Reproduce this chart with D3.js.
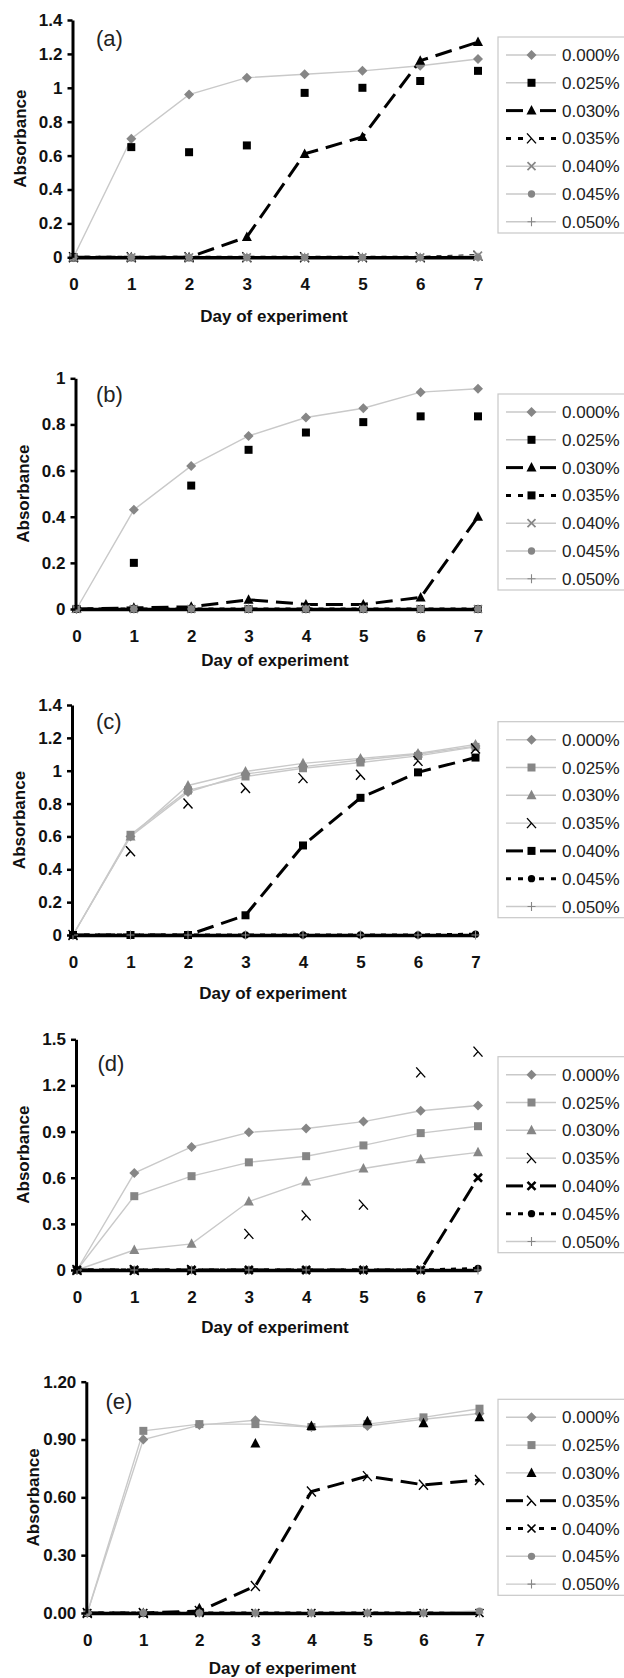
<!DOCTYPE html>
<html lang="en">
<head>
<meta charset="UTF-8" />
<title>Absorbance by day</title>
<script src="https://cdn.jsdelivr.net/npm/d3@7"></script>
<style>
  body { margin: 0; background: #fff; }
  svg { display: block; font-family: "Liberation Sans", Arial, sans-serif; }
</style>
</head>
<body>
<div id="chart"></div>
<script>
// ---- data ----
const days = [0, 1, 2, 3, 4, 5, 6, 7];
const seriesNames = ["0.000%", "0.025%", "0.030%", "0.035%", "0.040%", "0.045%", "0.050%"];
const panelTags = ["(a)", "(b)", "(c)", "(d)", "(e)"];
const xTitle = "Day of experiment";
const yTitle = "Absorbance";

// (a)
const a000 = [0, 0.70, 0.96, 1.06, 1.08, 1.10, 1.13, 1.17];
const a025 = [0, 0.65, 0.62, 0.66, 0.97, 1.00, 1.04, 1.10];
const a030 = [0, 0, 0, 0.12, 0.61, 0.71, 1.16, 1.27];
const a035 = [0, 0, 0, 0, 0, 0, 0, 0.01];
const a040 = [0, 0, 0, 0, 0, 0, 0, 0.01];
const a045 = [0, 0, 0, 0, 0, 0, 0, 0];
const a050 = [0, 0, 0, 0, 0, 0, 0, 0];
const ticksA = [0, 0.2, 0.4, 0.6, 0.8, 1, 1.2, 1.4];
const tickLabelsA = ["0", "0.2", "0.4", "0.6", "0.8", "1", "1.2", "1.4"];

// (b)
const b000 = [0, 0.43, 0.62, 0.75, 0.83, 0.87, 0.94, 0.955];
const b025 = [0, 0.20, 0.535, 0.69, 0.765, 0.81, 0.835, 0.835];
const b030 = [0, 0.005, 0.01, 0.04, 0.02, 0.02, 0.05, 0.40];
const b035 = [0, 0, 0, 0, 0, 0, 0, 0];
const b040 = [0, 0, 0, 0, 0, 0, 0, 0];
const b045 = [0, 0, 0, 0, 0, 0, 0, 0];
const b050 = [0, 0, 0, 0, 0, 0, 0, 0];
const ticksB = [0, 0.2, 0.4, 0.6, 0.8, 1];
const tickLabelsB = ["0", "0.2", "0.4", "0.6", "0.8", "1"];

// (c)
const c000 = [0, 0.60, 0.87, 0.98, 1.025, 1.065, 1.10, 1.15];
const c025 = [0, 0.61, 0.88, 0.965, 1.015, 1.05, 1.09, 1.145];
const c030 = [0, 0.60, 0.91, 0.995, 1.045, 1.075, 1.105, 1.16];
const c035 = [0, 0.51, 0.80, 0.895, 0.955, 0.975, 1.06, 1.135];
const c040 = [0, 0, 0, 0.12, 0.545, 0.835, 0.99, 1.08];
const c045 = [0, 0, 0, 0, 0, 0, 0, 0.005];
const c050 = [0, 0, 0, 0, 0, 0, 0, 0];
const ticksC = [0, 0.2, 0.4, 0.6, 0.8, 1, 1.2, 1.4];
const tickLabelsC = ["0", "0.2", "0.4", "0.6", "0.8", "1", "1.2", "1.4"];

// (d)
const d000 = [0, 0.63, 0.80, 0.895, 0.92, 0.965, 1.035, 1.07];
const d025 = [0, 0.48, 0.61, 0.70, 0.74, 0.81, 0.89, 0.935];
const d030 = [0, 0.13, 0.17, 0.445, 0.575, 0.66, 0.72, 0.765];
const d035 = [0, 0, 0, 0.235, 0.355, 0.425, 1.285, 1.42];
const d040 = [0, 0, 0, 0, 0, 0, 0, 0.60];
const d045 = [0, 0, 0, 0, 0, 0, 0, 0.01];
const d050 = [0, 0, 0, 0, 0, 0, 0, 0];
const ticksD = [0, 0.3, 0.6, 0.9, 1.2, 1.5];
const tickLabelsD = ["0", "0.3", "0.6", "0.9", "1.2", "1.5"];

// (e)
const e000 = [0, 0.90, 0.975, 1.00, 0.965, 0.97, 1.005, 1.035];
const e025 = [0, 0.945, 0.98, 0.98, 0.965, 0.98, 1.015, 1.06];
const e030 = [0, 0, 0.025, 0.88, 0.97, 0.995, 0.985, 1.015];
const e035 = [0, 0, 0.01, 0.14, 0.63, 0.71, 0.665, 0.69];
const e040 = [0, 0, 0, 0, 0, 0, 0, 0];
const e045 = [0, 0, 0, 0, 0, 0, 0, 0.01];
const e050 = [0, 0, 0, 0, 0, 0, 0, 0];
const ticksE = [0, 0.3, 0.6, 0.9, 1.2];
const tickLabelsE = ["0.00", "0.30", "0.60", "0.90", "1.20"];

// ---- styles ----
const GRAY = "#868686", LIGHT = "#c9c9c9";
const styles = {
  grayDiamond: { line: "light", marker: "diamond", color: GRAY },
  graySquare: { line: "light", marker: "square", color: GRAY },
  grayTriangle: { line: "light", marker: "triangle", color: GRAY },
  grayX: { line: "light", marker: "x", color: GRAY },
  grayCircle: { line: "light", marker: "circle", color: GRAY },
  grayPlus: { line: "light", marker: "plus", color: GRAY },
  blackSquareNoLine: { line: "none", marker: "square", color: "#000" },
  blackTriangleNoLine: { line: "none", marker: "triangle", color: "#000" },
  blackLambdaNoLine: { line: "none", marker: "lambda", color: "#000" },
  longTriangle: { line: "long", marker: "triangle", color: "#000" },
  longSquare: { line: "long", marker: "square", color: "#000" },
  longX: { line: "long", marker: "boldx", color: "#000" },
  longLambda: { line: "long", marker: "lambda", color: "#000" },
  shortLambda: { line: "short", marker: "lambda", color: "#000" },
  shortSquare: { line: "short", marker: "square", color: "#000" },
  shortCircle: { line: "short", marker: "circle", color: "#000" },
  shortX: { line: "short", marker: "x", color: "#000" }
};

const panels = [
  { tag: panelTags[0], series: [a000, a025, a030, a035, a040, a045, a050],
    look: ["grayDiamond", "blackSquareNoLine", "longTriangle", "shortLambda", "grayX", "grayCircle", "grayPlus"],
    ticks: ticksA, tickLabels: tickLabelsA,
    x0: 73.5, x7: 478, yTop: 20, y0: 257.3, legTop: 37, tagX: 96, tagY: 40, titleX: 274, titleY: 316 },
  { tag: panelTags[1], series: [b000, b025, b030, b035, b040, b045, b050],
    look: ["grayDiamond", "blackSquareNoLine", "longTriangle", "shortSquare", "grayX", "grayCircle", "grayPlus"],
    ticks: ticksB, tickLabels: tickLabelsB,
    x0: 76.5, x7: 478, yTop: 378.3, y0: 609, legTop: 394, tagX: 96, tagY: 396, titleX: 275, titleY: 660 },
  { tag: panelTags[2], series: [c000, c025, c030, c035, c040, c045, c050],
    look: ["grayDiamond", "graySquare", "grayTriangle", "blackLambdaNoLine", "longSquare", "shortCircle", "grayPlus"],
    ticks: ticksC, tickLabels: tickLabelsC,
    x0: 73, x7: 475.5, yTop: 705, y0: 935, legTop: 721.7, tagX: 96, tagY: 723, titleX: 273, titleY: 992.7 },
  { tag: panelTags[3], series: [d000, d025, d030, d035, d040, d045, d050],
    look: ["grayDiamond", "graySquare", "grayTriangle", "blackLambdaNoLine", "longX", "shortCircle", "grayPlus"],
    ticks: ticksD, tickLabels: tickLabelsD,
    x0: 77, x7: 478, yTop: 1039.3, y0: 1270, legTop: 1056.7, tagX: 97.5, tagY: 1065, titleX: 275, titleY: 1326.7 },
  { tag: panelTags[4], series: [e000, e025, e030, e035, e040, e045, e050],
    look: ["grayDiamond", "graySquare", "blackTriangleNoLine", "longLambda", "shortX", "grayCircle", "grayPlus"],
    ticks: ticksE, tickLabels: tickLabelsE,
    x0: 87.3, x7: 479.5, yTop: 1381.7, y0: 1613, legTop: 1399.3, tagX: 105.5, tagY: 1403, titleX: 282.5, titleY: 1668.3 }
];

const W = 624, H = 1678;
const svg = d3.select("#chart").append("svg").attr("width", W).attr("height", H);
svg.append("rect").attr("width", W).attr("height", H).attr("fill", "#fff");

function drawMarker(g, type, color, cx, cy) {
  const m = g.append("path").attr("transform", `translate(${cx},${cy})`);
  if (type === "diamond") m.attr("d", "M0,-5L5,0L0,5L-5,0Z").attr("fill", color);
  else if (type === "square") m.attr("d", "M-4,-4h8v8h-8Z").attr("fill", color);
  else if (type === "triangle") m.attr("d", "M0,-5.5L5,4L-5,4Z").attr("fill", color);
  else if (type === "circle") m.attr("d", d3.symbol(d3.symbolCircle, 42)()).attr("fill", color);
  else if (type === "x") m.attr("d", "M-4,-4L4,4M-4,4L4,-4").attr("fill", "none").attr("stroke", color).attr("stroke-width", 1.7);
  else if (type === "boldx") m.attr("d", "M-4,-4L4,4M-4,4L4,-4").attr("fill", "none").attr("stroke", color).attr("stroke-width", 2.6);
  else if (type === "plus") m.attr("d", "M-4,0H4M0,-4.5V4.5").attr("fill", "none").attr("stroke", color).attr("stroke-width", 1.1);
  else if (type === "lambda") m.attr("d", "M-4.5,-5L4.5,5M0,0L-4.5,5").attr("fill", "none").attr("stroke", color).attr("stroke-width", 1.4);
}

function lineAttrs(sel, kind) {
  if (kind === "light") sel.attr("stroke", LIGHT).attr("stroke-width", 1.4);
  else if (kind === "long") sel.attr("stroke", "#000").attr("stroke-width", 3).attr("stroke-dasharray", "17,8");
  else if (kind === "short") sel.attr("stroke", "#000").attr("stroke-width", 3).attr("stroke-dasharray", "5,6");
  return sel;
}

panels.forEach(p => {
  const x = d3.scaleLinear().domain([0, 7]).range([p.x0, p.x7]);
  const y = d3.scaleLinear().domain([0, d3.max(p.ticks)]).range([p.y0, p.yTop]);
  const g = svg.append("g");

  // series lines
  const line = d3.line().x((d, i) => x(days[i])).y(d => y(d));
  p.series.forEach((vals, k) => {
    const st = styles[p.look[k]];
    if (st.line === "none") return;
    lineAttrs(g.append("path").datum(vals).attr("d", line).attr("fill", "none"), st.line);
  });

  // x axis line (over the thin lines, under the markers) and day labels
  const xAxis = g.append("g").attr("transform", `translate(0,${p.y0})`)
    .call(d3.axisBottom(x).tickValues(days).tickFormat(d3.format("d")).tickSize(0).tickPadding(20.5));
  xAxis.select(".domain").attr("stroke", "#000").attr("stroke-width", 3.5);
  xAxis.selectAll("text").attr("font-size", 17).attr("font-weight", "bold").attr("font-family", "Liberation Sans, Arial, sans-serif").attr("fill", "#111");

  // markers
  p.series.forEach((vals, k) => {
    const st = styles[p.look[k]];
    vals.forEach((v, i) => drawMarker(g, st.marker, st.color, x(days[i]), y(v)));
  });

  // y axis
  const yAxis = g.append("g").attr("transform", `translate(${p.x0 - 1},0)`)
    .call(d3.axisLeft(y).tickValues(p.ticks).tickFormat((d, i) => p.tickLabels[i]).tickSize(5).tickSizeOuter(0).tickPadding(5));
  yAxis.select(".domain").attr("stroke", "#000").attr("stroke-width", 3);
  yAxis.selectAll(".tick line").attr("stroke", "#000").attr("stroke-width", 2.5);
  yAxis.selectAll("text").attr("font-size", 17).attr("font-weight", "bold").attr("font-family", "Liberation Sans, Arial, sans-serif").attr("fill", "#111");

  // panel tag
  g.append("text").attr("x", p.tagX).attr("y", p.tagY + 6).attr("font-size", 22).attr("fill", "#222").text(p.tag);

  // axis titles
  g.append("text").attr("x", p.titleX).attr("y", p.titleY + 6).attr("text-anchor", "middle")
    .attr("font-size", 17).attr("font-weight", "bold").attr("fill", "#111").text(xTitle);
  g.append("text").attr("transform", `translate(${p.x0 - 48},${(p.yTop + p.y0) / 2}) rotate(-90)`)
    .attr("text-anchor", "middle").attr("font-size", 17).attr("font-weight", "bold").attr("fill", "#111").text(yTitle);

  // legend
  const leg = g.append("g");
  leg.append("rect").attr("x", 498).attr("y", p.legTop).attr("width", 200).attr("height", 196)
    .attr("fill", "#fff").attr("stroke", "#c8c8c8").attr("stroke-width", 1.2);
  seriesNames.forEach((name, k) => {
    const st = styles[p.look[k]];
    const cy = p.legTop + 18 + k * 27.8;
    if (st.line === "light" || st.line === "none") {
      lineAttrs(leg.append("line").attr("x1", 506).attr("x2", 556).attr("y1", cy).attr("y2", cy), "light");
    } else if (st.line === "long") {
      [[506, 523], [540, 556]].forEach(s => leg.append("line").attr("x1", s[0]).attr("x2", s[1]).attr("y1", cy).attr("y2", cy)
        .attr("stroke", "#000").attr("stroke-width", 3));
    } else {
      [[506, 523], [539, 556]].forEach(s => leg.append("line").attr("x1", s[0]).attr("x2", s[1]).attr("y1", cy).attr("y2", cy)
        .attr("stroke", "#000").attr("stroke-width", 3).attr("stroke-dasharray", "5,7"));
    }
    drawMarker(leg, st.marker, st.color, 531.5, cy);
    leg.append("text").attr("x", 562).attr("y", cy + 6).attr("font-size", 17).attr("fill", "#222").text(name);
  });
});
</script>
</body>
</html>
